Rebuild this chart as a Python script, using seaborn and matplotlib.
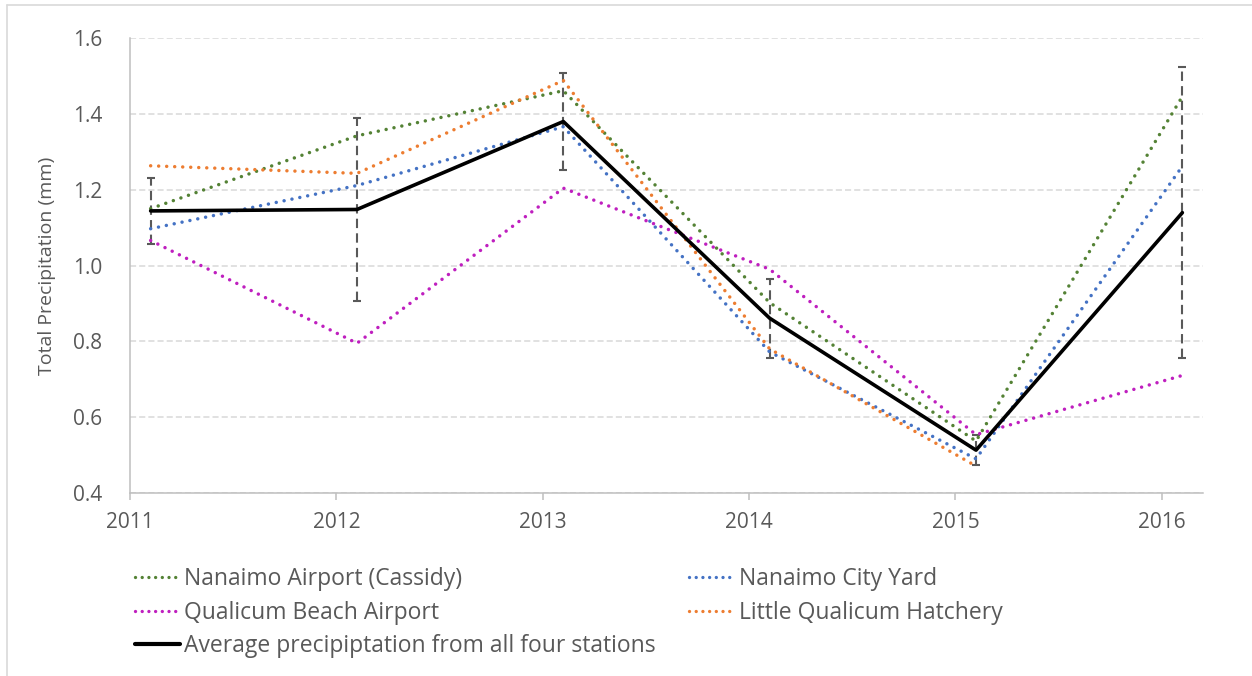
import numpy as np
import pandas as pd
import matplotlib
matplotlib.use("Agg")
import matplotlib.pyplot as plt
import seaborn as sns
from matplotlib.lines import Line2D

# ---- data ----
years = [2011.1, 2012.1, 2013.1, 2014.1, 2015.1, 2016.1]
tick_years = [2011, 2012, 2013, 2014, 2015, 2016]
nanaimo_airport = [1.150, 1.342, 1.461, 0.902, 0.537, 1.446]
nanaimo_city_yard = [1.097, 1.211, 1.366, 0.772, 0.490, 1.262]
qualicum_beach = [1.066, 0.795, 1.204, 0.990, 0.554, 0.710]
little_qualicum = [1.263, 1.243, 1.488, 0.780, 0.471, np.nan]

stations = ["Nanaimo Airport (Cassidy)", "Nanaimo City Yard",
            "Qualicum Beach Airport", "Little Qualicum Hatchery"]
series = [nanaimo_airport, nanaimo_city_yard, qualicum_beach, little_qualicum]
colors = ["#548235", "#4472C4", "#BF1FBF", "#ED7D31"]
avg_label = "Average precipiptation from all four stations"

df = pd.DataFrame({"year": years})
for name, vals in zip(stations, series):
    df[name] = vals
long = df.melt(id_vars="year", var_name="station", value_name="precip").dropna()
stats = long.groupby("year")["precip"].agg(["mean", "std"]).reset_index()

sns.set_theme(style="white")
plt.rcParams["font.family"] = ["Open Sans", "DejaVu Sans"]

fig = plt.figure(figsize=(12.52, 6.76), dpi=100)
ax = fig.add_axes([130 / 1252, 1 - 493 / 676, (1203 - 130) / 1252, (493 - 38) / 676])

# grid
ax.set_ylim(0.4, 1.6)
ax.set_xlim(2011, 2016.2)
yt = [0.4, 0.6, 0.8, 1.0, 1.2, 1.4, 1.6]
ax.set_yticks(yt)
ax.set_yticklabels([f"{v:.1f}" for v in yt])
ax.set_xticks(tick_years)
ax.set_xticklabels([str(y) for y in tick_years])
ax.yaxis.grid(True, color="#D9D9D9", linestyle=(0, (4, 2)), linewidth=1.1)
ax.set_axisbelow(True)

# error bars (sample SD across stations)
eb = ax.errorbar(stats["year"], stats["mean"], yerr=stats["std"], fmt="none",
                 ecolor="#595959", elinewidth=1.5, capsize=3, capthick=1.5, zorder=2)
eb.lines[2][0].set_linestyle((0, (4.5, 2.5)))

handles = {}
for name, col in zip(stations, colors):
    sub = long[long["station"] == name]
    sns.lineplot(data=sub, x="year", y="precip", ax=ax, color=col,
                 linewidth=2.5, linestyle=(0, (0.01, 2.3)),
                 dash_capstyle="round", zorder=3, estimator=None)
    handles[name] = Line2D([], [], color=col, linewidth=2.4,
                           linestyle=(0, (0.01, 2.0)), dash_capstyle="round")

sns.lineplot(data=stats, x="year", y="mean", ax=ax, color="black",
             linewidth=2.6, zorder=4, estimator=None)
handles[avg_label] = Line2D([], [], color="black", linewidth=3.0)

ax.set_xlabel("")
ax.set_ylabel("Total Precipitation (mm)", fontsize=14, color="#595959", labelpad=12)

for s in ["top", "right"]:
    ax.spines[s].set_visible(False)
for s in ["left", "bottom"]:
    ax.spines[s].set_color("#BFBFBF")
    ax.spines[s].set_linewidth(1.1)
ax.tick_params(axis="x", colors="#BFBFBF", labelcolor="#595959", labelsize=15,
               direction="out", length=5, width=1.1, bottom=True, pad=9)
ax.tick_params(axis="y", labelcolor="#595959", labelsize=15, length=0, pad=20)

order = [stations[0], stations[2], avg_label, stations[1], stations[3]]
leg = fig.legend([handles[k] for k in order], order, loc="upper left",
                 bbox_to_anchor=(126 / 1252, 1 - 558 / 676), ncol=2, frameon=False,
                 fontsize=16.5, handlelength=1.95, handletextpad=0.2,
                 columnspacing=1.45, labelspacing=0.42, borderaxespad=0)
for t in leg.get_texts():
    t.set_color("#595959")

# outer chart border
fig.add_artist(Line2D([7 / 1252, 7 / 1252], [0, 1 - 5 / 676], transform=fig.transFigure,
                      color="#D9D9D9", linewidth=1.2))
fig.add_artist(Line2D([7 / 1252, 1], [1 - 5 / 676, 1 - 5 / 676], transform=fig.transFigure,
                      color="#D9D9D9", linewidth=1.2))

fig.savefig("out.png", dpi=100)
